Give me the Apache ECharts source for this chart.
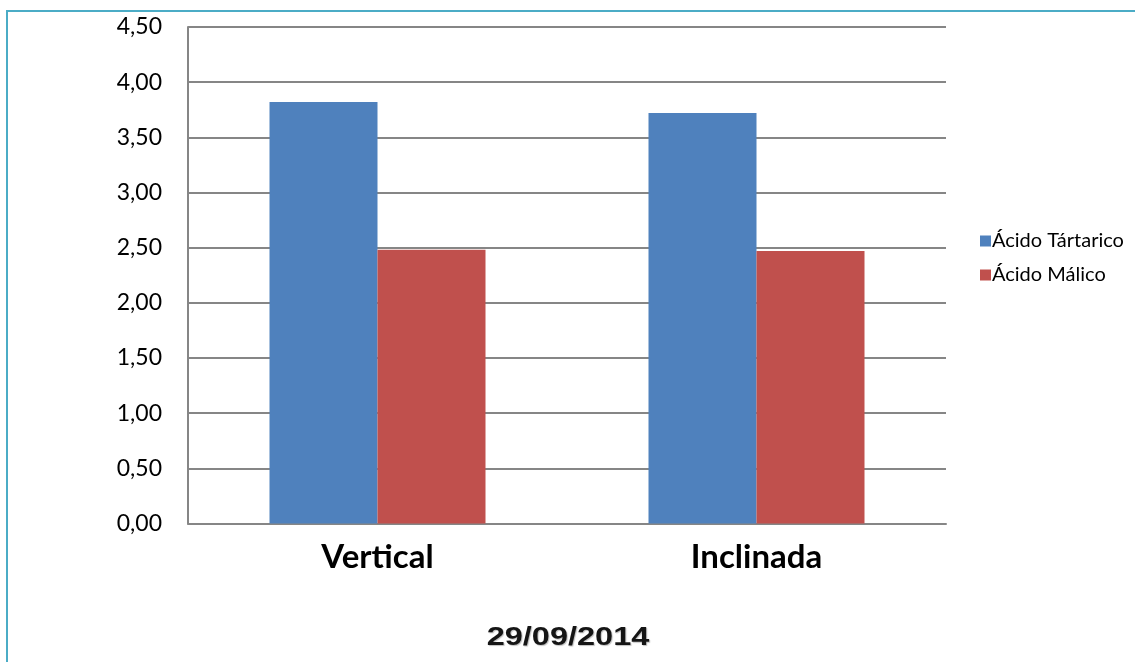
<!DOCTYPE html>
<html>
<head>
<meta charset="utf-8">
<script src="https://cdn.jsdelivr.net/npm/echarts@6/dist/echarts.min.js"></script>
<style>
  html, body { margin: 0; padding: 0; background: #fff; }
  #chart { width: 1135px; height: 662px; }
</style>
</head>
<body>
<div id="chart"></div>
<script>
// datos del gráfico
const categories = ["Vertical", "Inclinada"];
const tartarico = [3.82, 3.72];
const malico = [2.48, 2.47];
const seriesNames = ["Ácido Tártarico", "Ácido Málico"];
const titleText = "29/09/2014";

let myChart = echarts.init(document.getElementById("chart"));
const option = {
  animation: false,
  legend: {
    orient: "vertical",
    left: 975,
    top: 226,
    itemWidth: 11,
    itemHeight: 11,
    itemGap: 14,
    icon: "rect",
    textStyle: {
      fontFamily: "Lato",
      fontSize: 20,
      color: "#000",
      padding: [0, 0, 0, -4],
    },
    data: seriesNames,
  },
  grid: {
    left: 188,
    right: 189,
    top: 27,
    height: 496.5,
  },
  xAxis: {
    type: "category",
    data: categories,
    axisLine: { lineStyle: { color: "#868686", width: 2 } },
    axisTick: { show: false },
    axisLabel: {
      margin: 17,
      fontFamily: "Lato",
      fontWeight: "bold",
      fontSize: 33,
      color: "#000",
    },
  },
  yAxis: {
    type: "value",
    min: 0,
    max: 4.5,
    interval: 0.5,
    axisLine: { show: true, lineStyle: { color: "#868686", width: 2 } },
    axisTick: { show: false },
    splitLine: { lineStyle: { color: "#868686", width: 2 } },
    axisLabel: {
      margin: 26,
      fontFamily: "Lato",
      fontSize: 23,
      color: "#000",
      formatter: (v) => v.toFixed(2).replace(".", ","),
    },
  },
  series: [
    {
      name: seriesNames[0],
      type: "bar",
      data: tartarico,
      barWidth: 108,
      barGap: "0%",
      itemStyle: { color: "#4f81bd" },
    },
    {
      name: seriesNames[1],
      type: "bar",
      data: malico,
      barWidth: 108,
      itemStyle: { color: "#c0504d" },
    },
  ],
  graphic: [
    {
      type: "rect",
      shape: { x: 7, y: 11, width: 1200, height: 800 },
      style: { fill: "none", stroke: "#4bacc6", lineWidth: 2 },
      silent: true,
    },
    {
      type: "text",
      x: 568,
      y: 638,
      scaleX: 1.3,
      style: {
        text: titleText,
        font: "bold 25px 'Liberation Sans'",
        fill: "#151515",
        align: "center",
        verticalAlign: "middle",
        textShadowColor: "rgba(0,0,0,0.25)",
        textShadowBlur: 1,
        textShadowOffsetX: 1,
        textShadowOffsetY: 1,
      },
      silent: true,
    },
  ],
};
myChart.setOption(option);
</script>
</body>
</html>
